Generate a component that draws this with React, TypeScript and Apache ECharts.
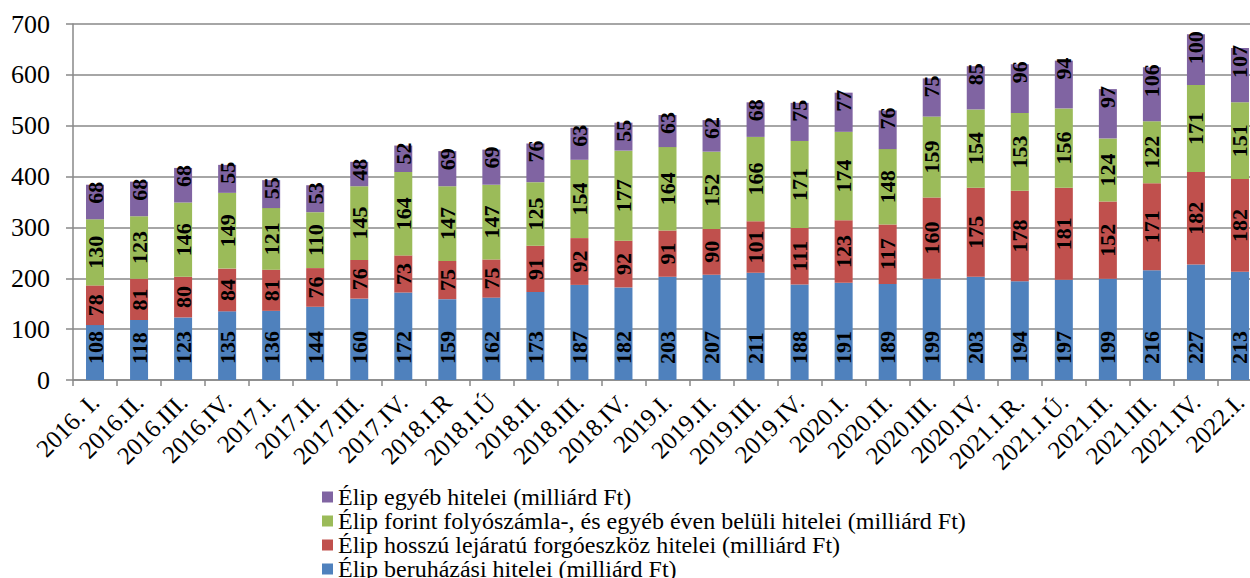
import React, { useEffect, useRef } from "react";
import * as echarts from "echarts";

const categories = [
  "2016. I.", "2016.II.", "2016.III.", "2016.IV.", "2017.I.", "2017.II.", "2017.III.", "2017.IV.",
  "2018.I.R", "2018.I.Ú", "2018.II.", "2018.III.", "2018.IV.", "2019.I.", "2019.II.", "2019.III.",
  "2019.IV.", "2020.I.", "2020.II.", "2020.III.", "2020.IV.", "2021.I.R.", "2021.I.Ú.", "2021.II.",
  "2021.III.", "2021.IV.", "2022.I.",
];

const beruhazasi = [108, 118, 123, 135, 136, 144, 160, 172, 159, 162, 173, 187, 182, 203, 207, 211, 188, 191, 189, 199, 203, 194, 197, 199, 216, 227, 213];
const hosszu = [78, 81, 80, 84, 81, 76, 76, 73, 75, 75, 91, 92, 92, 91, 90, 101, 111, 123, 117, 160, 175, 178, 181, 152, 171, 182, 182];
const folyoszamla = [130, 123, 146, 149, 121, 110, 145, 164, 147, 147, 125, 154, 177, 164, 152, 166, 171, 174, 148, 159, 154, 153, 156, 124, 122, 171, 151];
const egyeb = [68, 68, 68, 55, 55, 53, 48, 52, 69, 69, 76, 63, 55, 63, 62, 68, 75, 77, 76, 75, 85, 96, 94, 97, 106, 100, 107];

const yTicks = { min: 0, max: 700, interval: 100 };

const names = {
  blue: "Élip beruházási hitelei (milliárd Ft)",
  red: "Élip hosszú lejáratú forgóeszköz hitelei (milliárd Ft)",
  green: "Élip forint folyószámla-, és egyéb éven belüli hitelei (milliárd Ft)",
  purple: "Élip egyéb hitelei (milliárd Ft)",
};

const FONT = "Liberation Serif";
const GRID_COLOR = "#898989";

export default function App() {
  const ref = useRef<HTMLDivElement>(null);

  useEffect(() => {
    if (!ref.current) return;
    const chart = echarts.init(ref.current, undefined, { renderer: "svg" });
    const labelBase = {
      show: true,
      rotate: 90,
      color: "#000",
      fontFamily: FONT,
      fontWeight: "bold" as const,
      fontSize: 22,
    };
    chart.setOption({
      animation: false,
      textStyle: { fontFamily: FONT },
      grid: { left: 73, right: 8, top: 24, bottom: 240, containLabel: false },
      legend: {
        orient: "vertical",
        left: 322,
        top: 485,
        padding: 0,
        itemWidth: 11,
        itemHeight: 11,
        itemGap: 0,
        icon: "rect",
        textStyle: { fontFamily: FONT, fontSize: 24, color: "#000", lineHeight: 23.3 },
        data: [names.purple, names.green, names.red, names.blue],
      },
      xAxis: {
        type: "category",
        data: categories,
        axisLine: { show: true, lineStyle: { color: GRID_COLOR, width: 1.5 } },
        axisTick: { show: true, length: 6, alignWithLabel: false, lineStyle: { color: GRID_COLOR, width: 1.5 } },
        axisLabel: {
          interval: 0,
          rotate: 45,
          margin: 18,
          color: "#000",
          fontFamily: FONT,
          fontSize: 25,
        },
      },
      yAxis: {
        type: "value",
        min: yTicks.min,
        max: yTicks.max,
        interval: yTicks.interval,
        axisLine: { show: true, lineStyle: { color: GRID_COLOR, width: 1.5 } },
        axisTick: { show: true, length: 7, lineStyle: { color: GRID_COLOR, width: 1.5 } },
        splitLine: { show: true, lineStyle: { color: GRID_COLOR, width: 1.5 } },
        axisLabel: { margin: 23, color: "#000", fontFamily: FONT, fontSize: 26 },
      },
      series: [
        {
          name: names.blue,
          type: "bar",
          stack: "total",
          barWidth: 18,
          data: beruhazasi,
          itemStyle: { color: "#4F81BD" },
          label: { ...labelBase, position: "insideBottom", align: "left", verticalAlign: "middle", distance: 16 },
        },
        {
          name: names.red,
          type: "bar",
          stack: "total",
          barWidth: 18,
          data: hosszu,
          itemStyle: { color: "#C0504D" },
          label: { ...labelBase, position: "inside" },
        },
        {
          name: names.green,
          type: "bar",
          stack: "total",
          barWidth: 18,
          data: folyoszamla,
          itemStyle: { color: "#9BBB59" },
          label: { ...labelBase, position: "inside" },
        },
        {
          name: names.purple,
          type: "bar",
          stack: "total",
          barWidth: 18,
          data: egyeb,
          itemStyle: { color: "#8064A2" },
          label: { ...labelBase, position: "insideTop", align: "right", verticalAlign: "middle", distance: -3 },
        },
      ],
    });
    return () => chart.dispose();
  }, []);

  return (
    <div style={{ position: "fixed", left: 0, top: 0, width: 1250, height: 578, overflow: "hidden", background: "#fff" }}>
      <div ref={ref} style={{ width: 1270, height: 620 }} />
    </div>
  );
}
